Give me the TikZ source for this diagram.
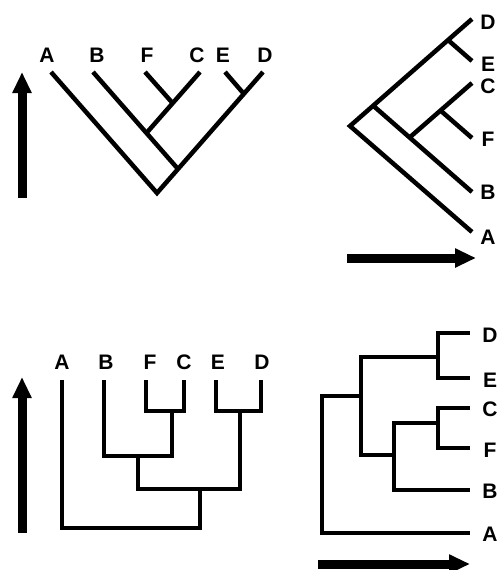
\documentclass[tikz,border=0pt]{standalone}
\usepackage{fontspec}
\setmainfont{Liberation Sans}
\usetikzlibrary{arrows.meta}
\tikzset{
    branch/.style={line width=4.5pt},
    bigarrow/.style={line width=9pt,-{Triangle[length=21pt,width=18pt]}},
    taxon/.style={font=\fontsize{21}{21}\selectfont\bfseries,inner sep=0pt}
}
\begin{document}
\begin{tikzpicture}[x=1pt,y=-1pt]
        \useasboundingbox (0,0) rectangle (501,570);
        % top left
        \foreach \n/\x/\lx in {A/51/47,B/93/97,F/145/147,C/200/197,E/225/223,D/263/265}
        {
            \coordinate (p\n) at (\x,72);
            \node[taxon] (lp\n) at (\lx,55) {\n};
        }
        \coordinate (pR) at (157,193);
        \coordinate (pX) at (178,169);
        \coordinate (pY) at (146.5,133);
        \coordinate (pZ) at (172.5,103);
        \coordinate (pW) at (244,94);
        \draw[branch] (pA)--(pR)--(pD);
        \draw[branch] (pX)--(pB);
        \draw[branch] (pY)--(pC);
        \draw[branch] (pZ)--(pF);
        \draw[branch] (pW)--(pE);
        \coordinate (pt0) at (22,198);
        \coordinate (pt1) at (22,72);
        \draw[bigarrow] (pt0)--(pt1);
        % top right
        \foreach \n/\y/\ly in {A/232/237,B/192/192,F/138/139,C/83/86,E/61/64,D/19/22}
        {
            \coordinate (q\n) at (472,\y);
            \node[taxon] (lq\n) at (488,\ly) {\n};
        }
        \coordinate (qR) at (350,126);
        \coordinate (qX) at (373,105.5);
        \coordinate (qY) at (409.6,137.5);
        \coordinate (qZ) at (440.5,110.5);
        \coordinate (qW) at (448,40);
        \draw[branch] (qA)--(qR)--(qD);
        \draw[branch] (qX)--(qB);
        \draw[branch] (qY)--(qC);
        \draw[branch] (qZ)--(qF);
        \draw[branch] (qW)--(qE);
        \coordinate (qt0) at (347,258);
        \coordinate (qt1) at (476,258);
        \draw[bigarrow] (qt0)--(qt1);
        % bottom left
        \foreach \n/\x/\lx in {A/62/62,B/104/106,F/146/150,C/184/184,E/216/218,D/261/262}
        {
            \coordinate (r\n) at (\x,380);
            \node[taxon] (lr\n) at (\lx,362) {\n};
        }
        \coordinate (rFC) at (172,411);
        \coordinate (rBFC) at (138,456);
        \coordinate (rED) at (240,411);
        \coordinate (rX) at (200,489);
        \coordinate (rR) at (200,528);
        \draw[branch] (rF) |- (rFC) -| (rC);
        \draw[branch] (rFC) |- (rBFC) -| (rB);
        \draw[branch] (rE) |- (rED) -| (rD);
        \draw[branch] (rBFC) |- (rX) -| (rED);
        \draw[branch] (rA) |- (rR) -- (rX);
        \coordinate (rt0) at (22,533);
        \coordinate (rt1) at (22,377);
        \draw[bigarrow] (rt0)--(rt1);
        % bottom right
        \foreach \n/\y/\ly in {D/333/335,E/378/380,C/408/409,F/448/450,B/490/491,A/533/534}
        {
            \coordinate (s\n) at (470,\y);
            \node[taxon] (ls\n) at (490,\ly) {\n};
        }
        \coordinate (sDE) at (438,357);
        \coordinate (sCF) at (438,423);
        \coordinate (sBCF) at (394,455);
        \coordinate (sX) at (361,396);
        \coordinate (sR) at (322,396);
        \draw[branch] (sD) -| (sDE) |- (sE);
        \draw[branch] (sC) -| (sCF) |- (sF);
        \draw[branch] (sCF) -| (sBCF) |- (sB);
        \draw[branch] (sDE) -| (sX) |- (sBCF);
        \draw[branch] (sX) -- (sR) |- (sA);
        \coordinate (st0) at (318,564);
        \coordinate (st1) at (470,564);
        \draw[bigarrow] (st0)--(st1);
\end{tikzpicture}
\end{document}
